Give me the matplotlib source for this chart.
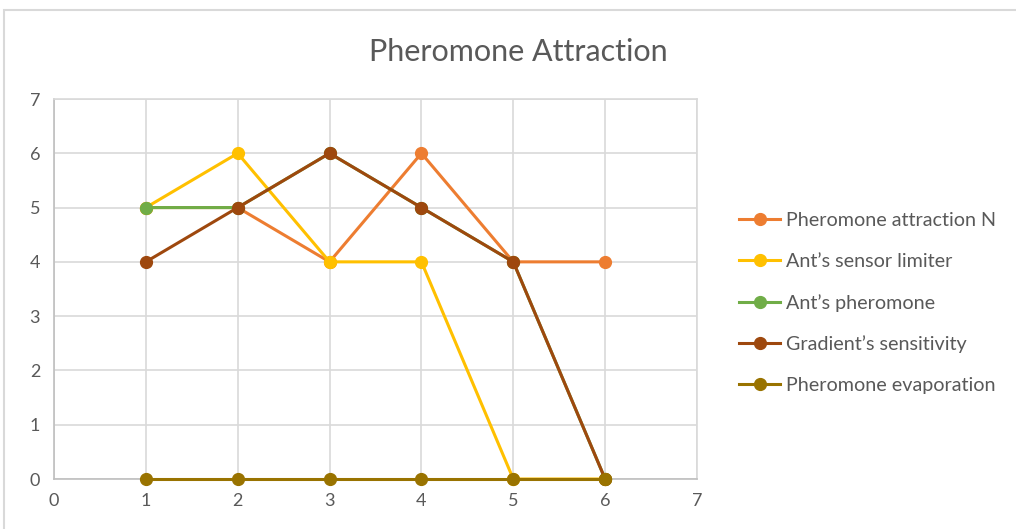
import matplotlib.pyplot as plt
from matplotlib.patches import Rectangle

# data
x = [1, 2, 3, 4, 5, 6]
attraction_n = [5, 5, 4, 6, 4, 4]
sensor_limiter = [5, 6, 4, 4, 0, 0]
ant_pheromone = [5, 5, 6, 5, 4, 0]
gradient_sens = [4, 5, 6, 5, 4, 0]
evaporation = [0, 0, 0, 0, 0, 0]

series = [
    ('Pheromone attraction N', attraction_n, '#ED7D31'),
    ('Ant\u2019s sensor limiter', sensor_limiter, '#FFC000'),
    ('Ant\u2019s pheromone', ant_pheromone, '#70AD47'),
    ('Gradient\u2019s sensitivity', gradient_sens, '#9E480E'),
    ('Pheromone evaporation', evaporation, '#997300'),
]

plt.rcParams['font.family'] = ['Lato', 'DejaVu Sans']

fig = plt.figure(figsize=(10.16, 5.29), dpi=100)
fig.patches.append(Rectangle((4 / 1016, -0.01), 1.02, 1 - 10 / 529 + 0.01,
                             transform=fig.transFigure, fill=False,
                             edgecolor='#D9D9D9', linewidth=1.5))

ax = fig.add_axes([54 / 1016, 50 / 529, 643 / 1016, 380 / 529])
for name, vals, col in series:
    ax.plot(x, vals, color=col, linewidth=2.2, marker='o', markersize=8.5,
            label=name, clip_on=False, zorder=3)

ax.set_xlim(0, 7)
ax.set_ylim(0, 7)
ax.set_xticks(range(8))
ax.set_yticks(range(8))
ax.grid(True, color='#D9D9D9', linewidth=1.2)
ax.set_axisbelow(True)
for s in ['top', 'right']:
    ax.spines[s].set_color('#D9D9D9')
for s in ['left', 'bottom']:
    ax.spines[s].set_color('#BFBFBF')
for s in ax.spines.values():
    s.set_linewidth(1.2)
    s.set_zorder(1)
ax.tick_params(length=0, labelsize=13, labelcolor='#595959', pad=10)

fig.text(518 / 1016, 1 - 52 / 529, 'Pheromone Attraction', ha='center', va='center',
         fontsize=22, color='#595959')

fig.legend(loc='center left', bbox_to_anchor=(731 / 1016, 1 - 303 / 529),
           frameon=False, fontsize=14.2, labelcolor='#595959',
           handlelength=2.1, handletextpad=0.3, labelspacing=1.2, borderaxespad=0)

fig.savefig('out.png', dpi=100, facecolor='white')
